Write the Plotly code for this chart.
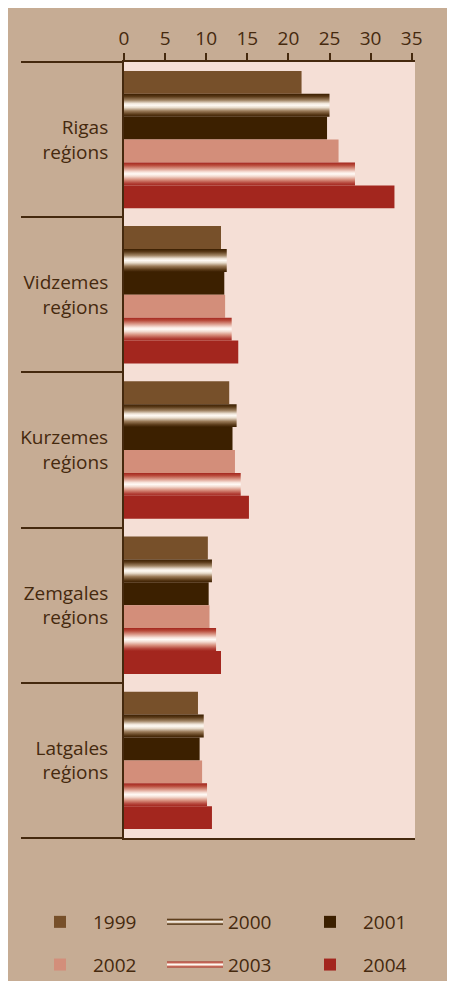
import plotly.graph_objects as go

# ---------------- data ----------------
regions = ["Rigas<br>reģions", "Vidzemes<br>reģions", "Kurzemes<br>reģions",
           "Zemgales<br>reģions", "Latgales<br>reģions"]
years = ["1999", "2000", "2001", "2002", "2003", "2004"]
v1999 = [21.6, 11.8, 12.8, 10.2, 9.0]
v2000 = [25.0, 12.5, 13.7, 10.7, 9.7]
v2001 = [24.7, 12.2, 13.2, 10.3, 9.2]
v2002 = [26.1, 12.3, 13.5, 10.4, 9.5]
v2003 = [28.1, 13.1, 14.2, 11.2, 10.1]
v2004 = [32.9, 13.9, 15.2, 11.8, 10.7]
x_ticks = [0, 5, 10, 15, 20, 25, 30, 35]

# ---------------- style ----------------
W, H = 447, 973
L, R, T, B = 116, 40, 54, 143
PW, PH = W - L - R, H - T - B
PAPER = "#c6ac94"
PLOTBG = "#f5dfd6"
INK = "#45290e"
FONT = "Open Sans, Noto Sans, sans-serif"

solid_colors = {"1999": "#77502a", "2001": "#3c2000", "2002": "#d38e7a", "2004": "#a3261e"}
gradients = {
    "2000": [[0, "#3a1e00"], [0.12, "#5a3a18"], [0.28, "#a08464"], [0.42, "#f0e6da"],
             [0.5, "#fffaf4"], [0.6, "#e8dccc"], [0.75, "#9a7a58"], [0.9, "#5a3a18"], [1, "#3a1e00"]],
    "2003": [[0, "#a3261e"], [0.12, "#b84a3a"], [0.28, "#dc9c8c"], [0.42, "#f8e4dc"],
             [0.5, "#fffaf6"], [0.6, "#f4dcd2"], [0.75, "#d8907e"], [0.9, "#b4443a"], [1, "#a3261e"]],
}
series = {"1999": v1999, "2000": v2000, "2001": v2001, "2002": v2002, "2003": v2003, "2004": v2004}

GW = 0.885
BW = GW / len(years)
idx = list(range(len(regions)))

fig = go.Figure()
later = []
for j, yr in enumerate(years):
    off = -GW / 2 + j * BW
    vals = series[yr]
    if yr in solid_colors:
        fig.add_trace(go.Bar(x=vals, y=idx, orientation="h", width=BW, offset=off,
                             name=yr, legendgroup=yr,
                             marker=dict(color=solid_colors[yr], line=dict(width=0))))
    else:
        for i, v in enumerate(vals):
            y0, y1 = i + off, i + off + BW
            tr = go.Scatter(x=[0, v, v, 0, 0], y=[y0, y0, y1, y1, y0], mode="none",
                            fill="toself", name=yr, legendgroup=yr, showlegend=(i == 0),
                            fillgradient=dict(type="vertical", colorscale=gradients[yr],
                                              start=y0, stop=y1),
                            hoverinfo="x+name")
            if i == 0:
                fig.add_trace(tr)
            else:
                later.append(tr)
for tr in later:
    fig.add_trace(tr)


def px_x(p):
    return (p - L) / PW


def px_y(p):
    return (H - B - p) / PH


fig.update_layout(
    width=W, height=H,
    margin=dict(l=L, r=R, t=T, b=B, pad=0, autoexpand=False),
    paper_bgcolor=PAPER, plot_bgcolor=PLOTBG,
    font=dict(family=FONT, color=INK, size=19),
    barmode="overlay",
    showlegend=True,
    legend=dict(orientation="h", x=px_x(19), xanchor="left", y=px_y(895), yanchor="top",
                entrywidth=64, entrywidthmode="pixels", itemwidth=56,
                traceorder="grouped", tracegroupgap=15,
                font=dict(size=19, color=INK), bgcolor="rgba(0,0,0,0)"),
    xaxis=dict(side="top", range=[0, 35.4], tickmode="array", tickvals=x_ticks,
               ticks="outside", ticklen=7, tickwidth=2, tickcolor=INK,
               showline=True, linewidth=2, linecolor=INK, mirror=True,
               showgrid=False, zeroline=False, tickfont=dict(size=19, color=INK),
               fixedrange=True),
    yaxis=dict(range=[len(regions) - 0.5, -0.5], tickmode="array", tickvals=idx,
               ticktext=regions, ticks="", ticklabelstandoff=10,
               minor=dict(tickmode="array", tickvals=[k - 0.5 for k in range(len(regions) + 1)],
                          ticks="outside", ticklen=101, tickwidth=2, tickcolor=INK,
                          showgrid=False),
               showline=True, linewidth=2, linecolor=INK, mirror=False,
               showgrid=False, zeroline=False, tickfont=dict(size=19, color=INK),
               fixedrange=True),
)

fig.write_html("out.html")
